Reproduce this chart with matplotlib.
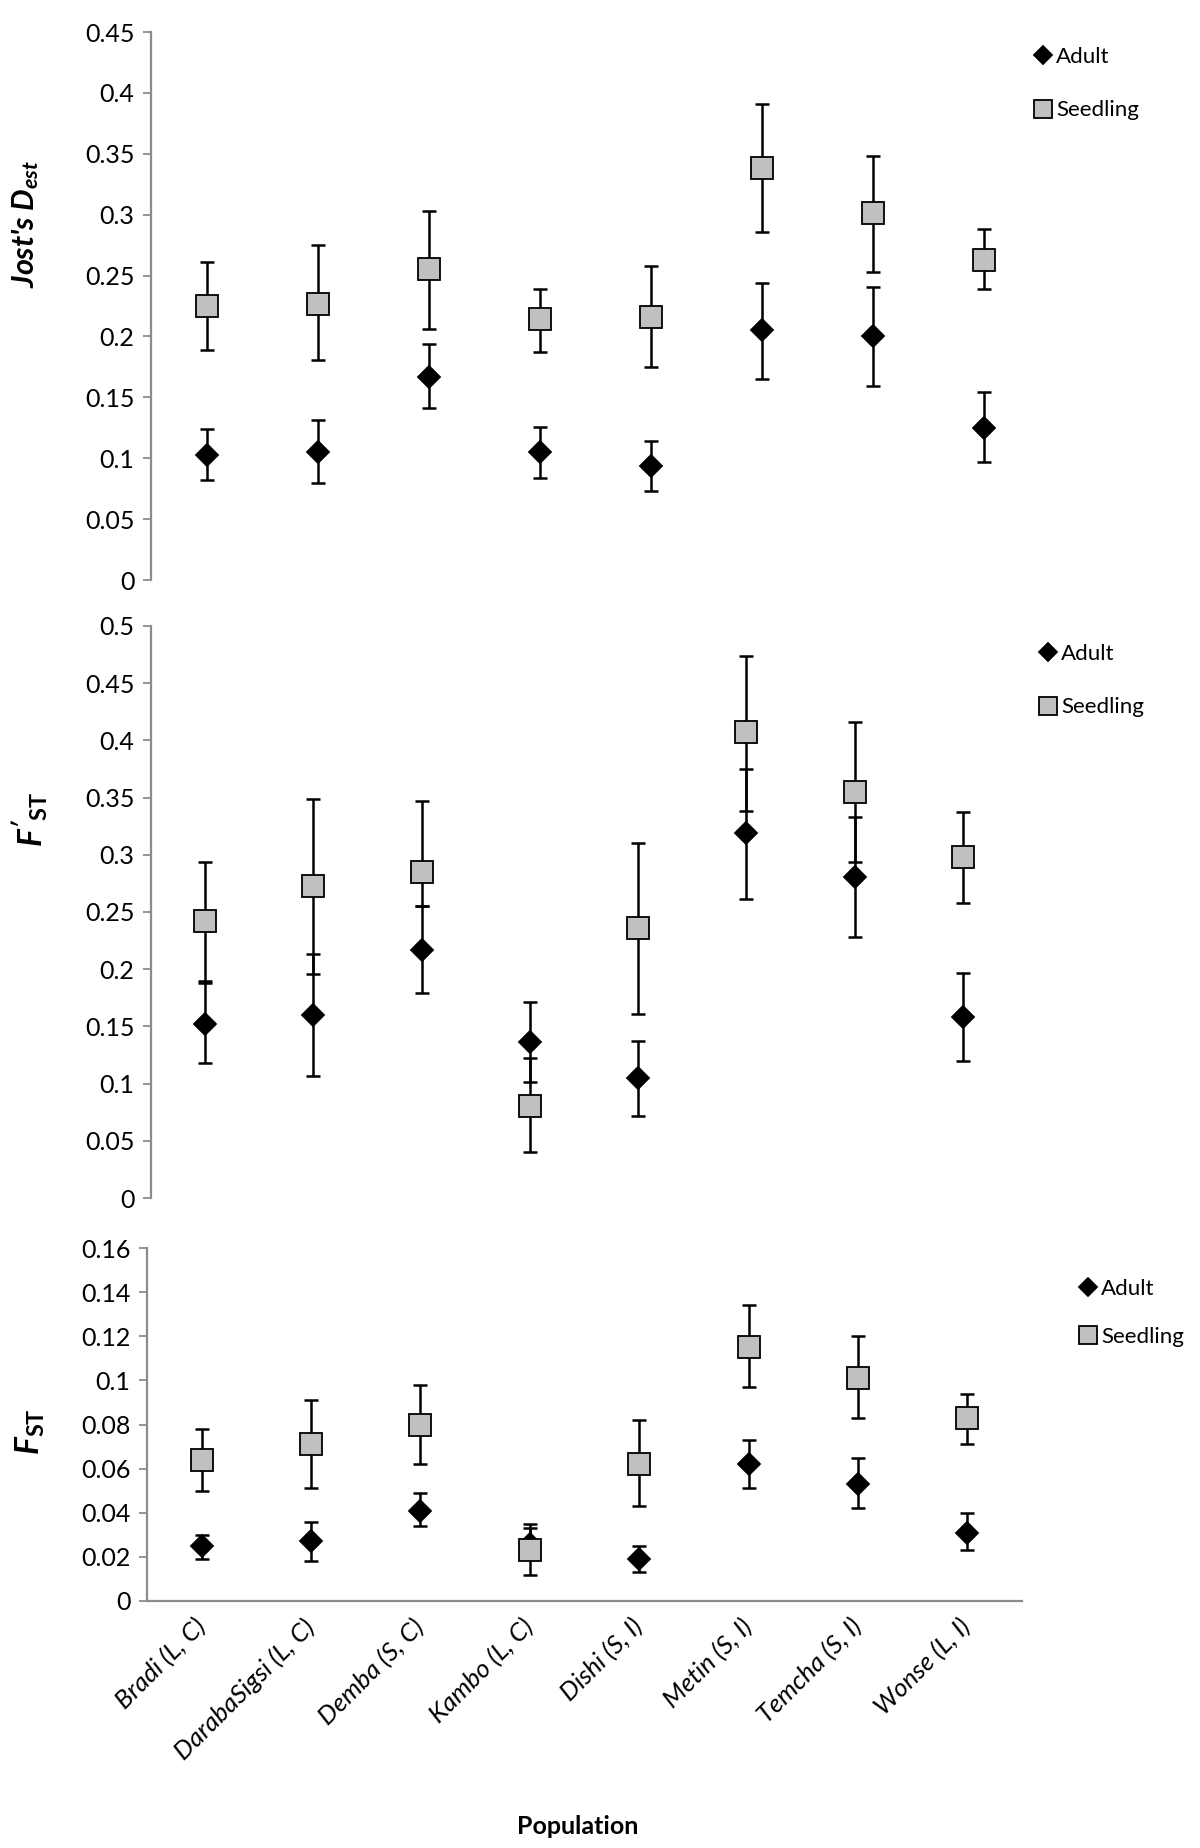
import matplotlib
matplotlib.use("Agg")
import matplotlib.pyplot as plt
import numpy as np

plt.rcParams['font.family'] = ['Lato', 'DejaVu Sans']
plt.rcParams['mathtext.fontset'] = 'custom'
plt.rcParams['mathtext.rm'] = 'Lato'
plt.rcParams['mathtext.it'] = 'Lato:italic'
plt.rcParams['mathtext.bf'] = 'Lato:bold'
plt.rcParams['mathtext.bfit'] = 'Lato:bold:italic'

pops = ["Bradi (L, C)", "DarabaSigsi (L, C)", "Demba (S, C)", "Kambo (L, C)",
        "Dishi (S, I)", "Metin (S, I)", "Temcha (S, I)", "Wonse (L, I)"]

# Jost's D_est
dest_adult = [0.103, 0.105, 0.167, 0.105, 0.094, 0.205, 0.200, 0.125]
dest_adult_lo = [0.082, 0.080, 0.141, 0.084, 0.073, 0.165, 0.159, 0.097]
dest_adult_hi = [0.124, 0.131, 0.194, 0.126, 0.114, 0.244, 0.241, 0.154]
dest_seed = [0.225, 0.227, 0.255, 0.214, 0.216, 0.338, 0.301, 0.263]
dest_seed_lo = [0.189, 0.181, 0.206, 0.187, 0.175, 0.286, 0.253, 0.239]
dest_seed_hi = [0.261, 0.275, 0.303, 0.239, 0.258, 0.391, 0.348, 0.288]

# F'ST
fpst_adult = [0.152, 0.160, 0.217, 0.136, 0.105, 0.319, 0.281, 0.158]
fpst_adult_lo = [0.118, 0.107, 0.179, 0.101, 0.072, 0.261, 0.228, 0.120]
fpst_adult_hi = [0.190, 0.213, 0.255, 0.171, 0.137, 0.375, 0.333, 0.197]
fpst_seed = [0.242, 0.273, 0.285, 0.080, 0.236, 0.407, 0.355, 0.298]
fpst_seed_lo = [0.188, 0.196, 0.255, 0.040, 0.161, 0.338, 0.294, 0.258]
fpst_seed_hi = [0.294, 0.349, 0.347, 0.122, 0.310, 0.474, 0.416, 0.337]

# FST
fst_adult = [0.025, 0.027, 0.041, 0.026, 0.019, 0.062, 0.053, 0.031]
fst_adult_lo = [0.019, 0.018, 0.034, 0.019, 0.013, 0.051, 0.042, 0.023]
fst_adult_hi = [0.030, 0.036, 0.049, 0.033, 0.025, 0.073, 0.065, 0.040]
fst_seed = [0.064, 0.071, 0.080, 0.023, 0.062, 0.115, 0.101, 0.083]
fst_seed_lo = [0.050, 0.051, 0.062, 0.012, 0.043, 0.097, 0.083, 0.071]
fst_seed_hi = [0.078, 0.091, 0.098, 0.035, 0.082, 0.134, 0.120, 0.094]

W, H = 1200, 1848
fig = plt.figure(figsize=(W / 100, H / 100), dpi=100)

def px_axes(left, right, top, bottom):
    return fig.add_axes([left / W, 1 - bottom / H, (right - left) / W, (bottom - top) / H])

panels = [
    dict(rect=(151, 1039, 32, 580), ymax=0.45, step=0.05,
         a=(dest_adult, dest_adult_lo, dest_adult_hi), s=(dest_seed, dest_seed_lo, dest_seed_hi),
         leg=(1034, 47), ls=1.5),
    dict(rect=(151, 1017, 626, 1198), ymax=0.5, step=0.05,
         a=(fpst_adult, fpst_adult_lo, fpst_adult_hi), s=(fpst_seed, fpst_seed_lo, fpst_seed_hi),
         leg=(1039, 644), ls=1.5),
    dict(rect=(147, 1022, 1248, 1601), ymax=0.16, step=0.02,
         a=(fst_adult, fst_adult_lo, fst_adult_hi), s=(fst_seed, fst_seed_lo, fst_seed_hi),
         leg=(1079, 1279), ls=1.25),
]

x = np.arange(len(pops))
for i, p in enumerate(panels):
    ax = px_axes(*p['rect'])
    for vals, marker, face, size, lab in [(p['a'], 'D', 'black', 11, 'Adult'),
                                          (p['s'], 's', '#c0c0c0', 16, 'Seedling')]:
        v, lo, hi = (np.array(t) for t in vals)
        ax.errorbar(x, v, yerr=[v - lo, hi - v], fmt='none', ecolor='black',
                    elinewidth=1.8, capsize=5, capthick=1.8, zorder=2)
        ax.plot(x, v, linestyle='none', marker=marker, markersize=size,
                markerfacecolor=face, markeredgecolor='black', markeredgewidth=1.3,
                label=lab, zorder=3)
    ax.set_xlim(-0.5, len(pops) - 0.5)
    ax.set_ylim(0, p['ymax'])
    ticks = np.round(np.arange(0, p['ymax'] + 1e-9, p['step']), 3)
    ax.set_yticks(ticks)
    ax.set_yticklabels(["%g" % t for t in ticks])
    for s in ['top', 'right']:
        ax.spines[s].set_visible(False)
    ax.spines['left'].set_color('#8c8c8c')
    ax.spines['left'].set_linewidth(1.6)
    ax.tick_params(axis='y', direction='out', length=6, width=1.3, color='#8c8c8c',
                   labelsize=18, pad=6)
    if i < 2:
        ax.spines['bottom'].set_visible(False)
        ax.set_xticks([])
    else:
        ax.spines['bottom'].set_color('#8c8c8c')
        ax.spines['bottom'].set_linewidth(1.6)
        ax.set_xticks(x)
        ax.set_xticklabels(pops, rotation=45, ha='right', va='center',
                           rotation_mode='anchor', fontstyle='italic', fontsize=18.5)
        ax.tick_params(axis='x', length=0, pad=16)
    lx, ly = p['leg']
    ax.legend(loc='upper left', bbox_to_anchor=(lx / W, 1 - ly / H),
              bbox_transform=fig.transFigure, frameon=False, fontsize=16,
              handlelength=0.8, handletextpad=0.2, labelspacing=p['ls'],
              borderpad=0, borderaxespad=0, markerscale=0.85, numpoints=1)

fig.text(26 / W, 1 - 224 / H, "Jost's $\\mathbfit{D}_{\\mathbfit{est}}$", rotation=90,
         ha='center', va='center', fontsize=22, fontweight='bold', fontstyle='italic')
fig.text(30 / W, 1 - 819 / H, "$\\mathbfit{F'}_{\\mathbf{ST}}$", rotation=90,
         ha='center', va='center', fontsize=24)
fig.text(30 / W, 1 - 1432 / H, "$\\mathbfit{F}_{\\mathbf{ST}}$", rotation=90,
         ha='center', va='center', fontsize=24)
fig.text(578 / W, 1 - 1827 / H, "Population", ha='center', va='center',
         fontsize=18, fontweight='bold')

fig.savefig("out.png", dpi=100)
